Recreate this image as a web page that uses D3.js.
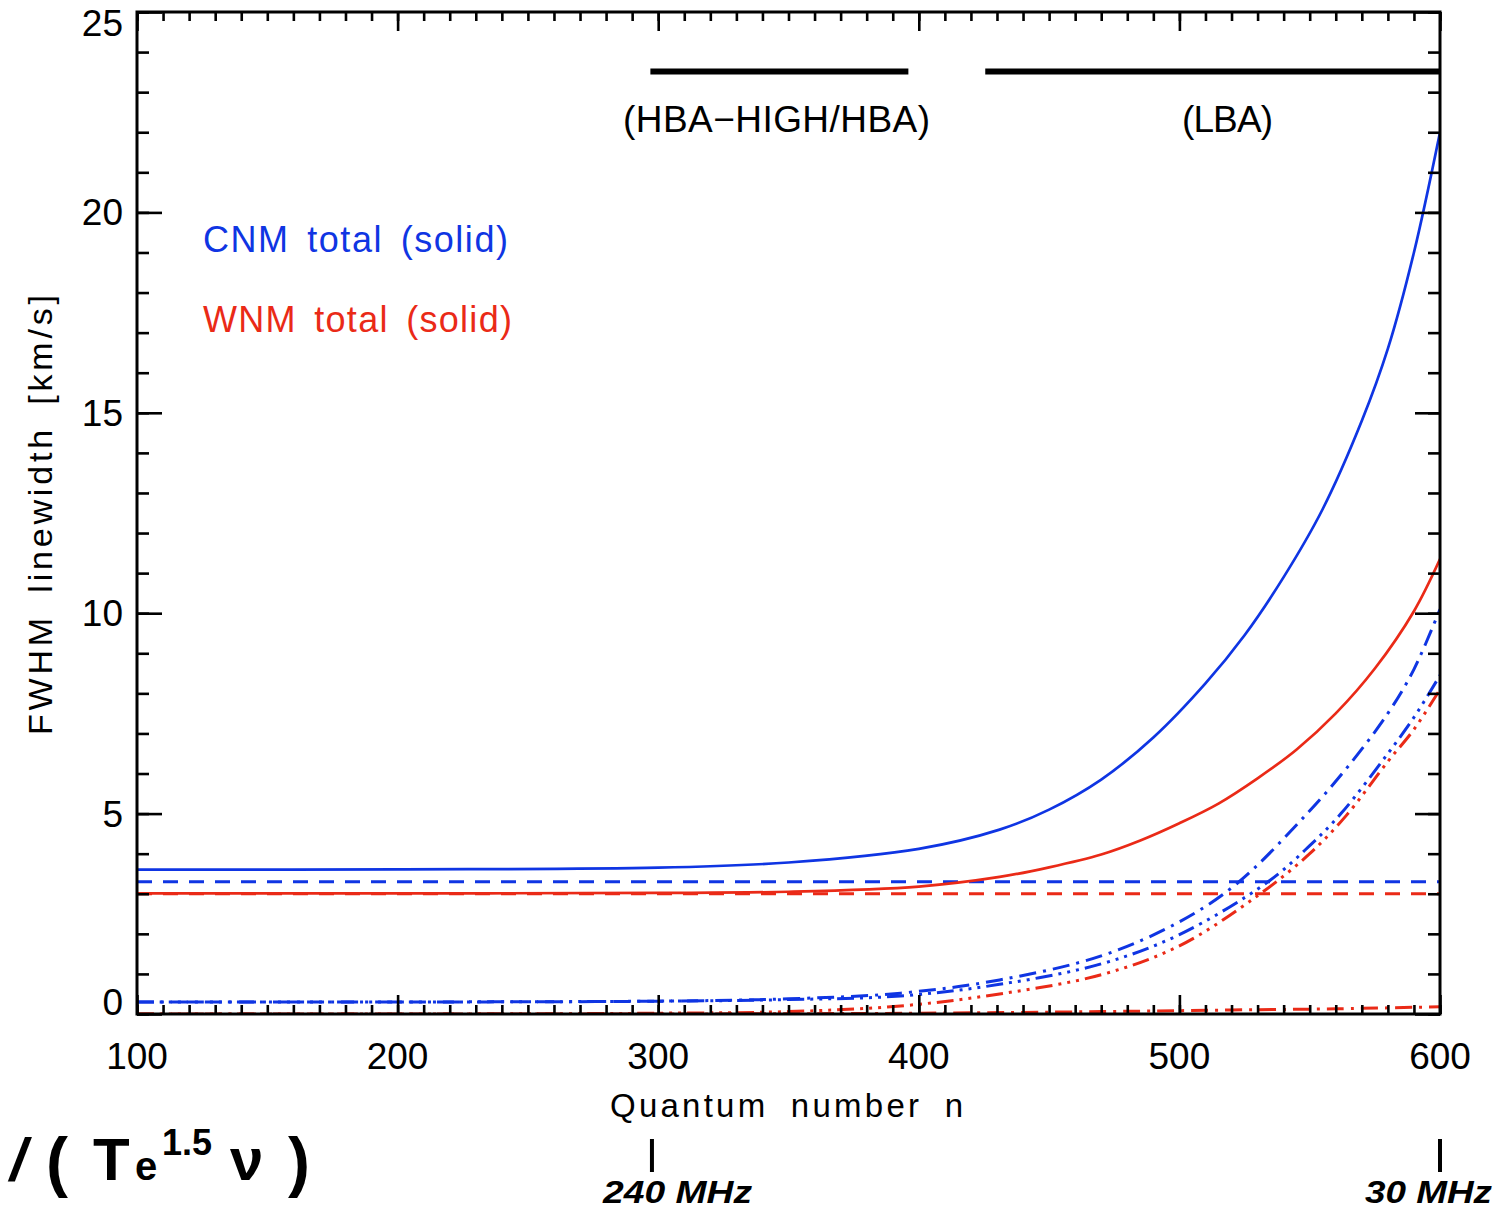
<!DOCTYPE html>
<html><head><meta charset="utf-8">
<script src="https://cdn.jsdelivr.net/npm/d3@7"></script>
<style>body{margin:0;background:#fff}svg{display:block}</style>
</head><body>
<script>
// ---- data ----
const xTicks = [100, 200, 300, 400, 500, 600];
const yTicks = [0, 5, 10, 15, 20, 25];
// CNM (blue)
const cnmTotal = [[100,3.6],[200,3.61],[300,3.65],[350,3.78],[400,4.12],[431,4.6],[450,5.1],[470,5.85],[490,6.9],[510,8.25],[525,9.45],[540,10.9],[555,12.6],[570,14.8],[580,16.6],[590,19.0],[600,22.0]];
const cnmDoppler = [[100,3.3],[600,3.3]];
const cnmDashDot = [[100,0.3],[200,0.3],[300,0.32],[350,0.38],[393,0.52],[431,0.85],[470,1.45],[500,2.3],[522,3.25],[549,5.0],[565,6.2],[580,7.5],[590,8.6],[600,10.1]];
const cnmDash3Dot = [[100,0.3],[200,0.3],[300,0.32],[350,0.36],[393,0.45],[431,0.74],[470,1.25],[500,1.98],[534,3.3],[550,4.2],[562,5.0],[580,6.5],[590,7.4],[600,8.45]];
// WNM (red)
const wnmTotal = [[100,3.01],[200,3.01],[300,3.02],[350,3.05],[400,3.18],[431,3.42],[450,3.66],[470,3.98],[485,4.33],[500,4.76],[515,5.25],[530,5.88],[545,6.6],[560,7.5],[575,8.62],[590,10.05],[600,11.35]];
const wnmDoppler = [[100,3.0],[600,3.0]];
const wnmDashDot = [[100,0],[300,0],[400,0.02],[470,0.06],[520,0.1],[560,0.13],[600,0.18]];
const wnmDash3Dot = [[100,0],[200,0],[300,0.02],[350,0.06],[393,0.2],[431,0.5],[470,0.98],[500,1.7],[530,2.95],[550,4.0],[564,4.95],[580,6.3],[590,7.1],[600,8.1]];
// band bars (quantum number ranges) and labels
const bands = [{label:"(HBA\u2212HIGH/HBA)", from:297, to:396}, {label:"(LBA)", from:425.5, to:600}];
const freqMarks = [{n:297.6, label:"240 MHz"}, {n:600, label:"30 MHz"}];
const legendItems = ["CNM total (solid)", "WNM total (solid)"];

const W = 1503, H = 1211;
const BLUE = "#0f35e3", RED = "#ea2a17";
const m = {left:137, right:1440, top:12, bottom:1014};

const svg = d3.select("body").append("svg").attr("width", W).attr("height", H);
const x = d3.scaleLinear().domain([100, 600]).range([m.left, m.right]);
const y = d3.scaleLinear().domain([0, 25]).range([m.bottom, m.top]);

svg.append("clipPath").attr("id","clip").append("rect")
  .attr("x", m.left).attr("y", m.top).attr("width", m.right - m.left).attr("height", m.bottom - m.top);

const line = d3.line().x(d => x(d[0])).y(d => y(d[1])).curve(d3.curveCatmullRom.alpha(0.5));
const g = svg.append("g").attr("clip-path", "url(#clip)");
const series = [
  {d: wnmDashDot, c: RED, dash: "17,7,3,7", w: 3},
  {d: wnmDash3Dot, c: RED, dash: "17,6,3,6,3,6,3,6", w: 3},
  {d: cnmDash3Dot, c: BLUE, dash: "17,6,3,6,3,6,3,6", w: 3},
  {d: cnmDashDot, c: BLUE, dash: "17,7,3,7", w: 3},
  {d: wnmDoppler, c: RED, dash: "15,11", w: 3},
  {d: cnmDoppler, c: BLUE, dash: "15,11", w: 3},
  {d: wnmTotal, c: RED, dash: null, w: 2.7},
  {d: cnmTotal, c: BLUE, dash: null, w: 2.7}
];
series.forEach(s => {
  g.append("path").attr("d", line(s.d)).attr("fill","none")
    .attr("stroke", s.c).attr("stroke-width", s.w)
    .attr("stroke-dasharray", s.dash);
});

// ---- axes (IDL style, ticks inward on all four sides) ----
const font = "'Liberation Sans', Arial, sans-serif";
const xMinor = d3.range(100, 601, 10);
const yMinor = d3.range(0, 25.01, 1);
const axes = [
  [d3.axisBottom(x).tickValues(xMinor).tickSize(-9), `translate(0,${m.bottom})`],
  [d3.axisBottom(x).tickValues(xTicks).tickSize(-19), `translate(0,${m.bottom})`],
  [d3.axisTop(x).tickValues(xMinor).tickSize(-9), `translate(0,${m.top})`],
  [d3.axisTop(x).tickValues(xTicks).tickSize(-19), `translate(0,${m.top})`],
  [d3.axisLeft(y).tickValues(yMinor).tickSize(-12), `translate(${m.left},0)`],
  [d3.axisLeft(y).tickValues(yTicks).tickSize(-25), `translate(${m.left},0)`],
  [d3.axisRight(y).tickValues(yMinor).tickSize(-12), `translate(${m.right},0)`],
  [d3.axisRight(y).tickValues(yTicks).tickSize(-25), `translate(${m.right},0)`]
];
axes.forEach(([ax, tr]) => {
  const a = svg.append("g").attr("transform", tr).call(ax.tickFormat(""));
  a.select(".domain").remove();
  a.selectAll("line").attr("stroke","#000").attr("stroke-width",2.6);
});
svg.append("rect").attr("x", m.left).attr("y", m.top).attr("width", m.right - m.left)
  .attr("height", m.bottom - m.top).attr("fill","none").attr("stroke","#000").attr("stroke-width",3);

// tick labels
svg.append("g").selectAll("text").data(xTicks).join("text")
  .attr("x", d => x(d)).attr("y", 1069).attr("text-anchor","middle")
  .attr("font-family", font).attr("font-size", 37).text(d => d);
svg.append("g").selectAll("text").data(yTicks).join("text")
  .attr("x", 123).attr("y", d => y(d) + 13 + (d === 25 ? 11 : d === 0 ? -12 : 0))
  .attr("text-anchor","end").attr("font-family", font).attr("font-size", 37).text(d => d);

// axis titles
svg.append("text").attr("x", 610).attr("y", 1117).attr("font-family", font).attr("font-size", 33)
  .attr("word-spacing", 10).attr("textLength", 353).attr("lengthAdjust","spacing").text("Quantum number n");
svg.append("text").attr("transform","translate(52,735) rotate(-90)").attr("font-family", font)
  .attr("font-size", 34).attr("word-spacing", 8).attr("textLength", 440).attr("lengthAdjust","spacing").text("FWHM linewidth [km/s]");

// legend
const legColors = [BLUE, RED];
legendItems.forEach((t, i) => {
  svg.append("text").attr("x", 203).attr("y", 252 + i * 80).attr("fill", legColors[i])
    .attr("font-family", font).attr("font-size", 36).attr("word-spacing", 6)
    .attr("textLength", i === 0 ? 305 : 309).attr("lengthAdjust","spacing").text(t);
});

// band bars
const labelSpans = [[623, 930], [1182, 1273]];
bands.forEach((b, i) => {
  svg.append("line").attr("x1", x(b.from)).attr("x2", x(b.to)).attr("y1", 71.5).attr("y2", 71.5)
    .attr("stroke","#000").attr("stroke-width",6);
  svg.append("text").attr("x", labelSpans[i][0]).attr("y", 132).attr("font-family", font)
    .attr("font-size", 37).attr("textLength", labelSpans[i][1] - labelSpans[i][0])
    .attr("lengthAdjust","spacing").text(b.label);
});

// bottom annotation
const ann = svg.append("g").attr("font-family", font).attr("font-weight","bold").attr("fill","#000");
ann.append("text").attr("x", 10).attr("y", 1180).attr("font-size", 60).attr("font-style","italic").text("/");
ann.append("text").attr("x", 46).attr("y", 1184).attr("font-size", 66).text("(");
ann.append("text").attr("x", 93).attr("y", 1180).attr("font-size", 60).text("T");
ann.append("text").attr("x", 135).attr("y", 1180).attr("font-size", 40).text("e");
ann.append("text").attr("x", 162).attr("y", 1155).attr("font-size", 36).text("1.5");
ann.append("text").attr("x", 230).attr("y", 1180).attr("font-size", 60).text("\u03BD");
ann.append("text").attr("x", 288).attr("y", 1184).attr("font-size", 66).text(")");

freqMarks.forEach((f, i) => {
  svg.append("line").attr("x1", x(f.n)).attr("x2", x(f.n)).attr("y1", 1139).attr("y2", 1172)
    .attr("stroke","#000").attr("stroke-width",4);
  svg.append("text").attr("x", i === 0 ? 603 : 1365).attr("y", 1203)
    .attr("font-family", font).attr("font-weight","bold").attr("font-style","italic")
    .attr("font-size", 31).attr("textLength", i === 0 ? 149 : 127).attr("lengthAdjust","spacingAndGlyphs")
    .text(f.label);
});
</script>
</body></html>
